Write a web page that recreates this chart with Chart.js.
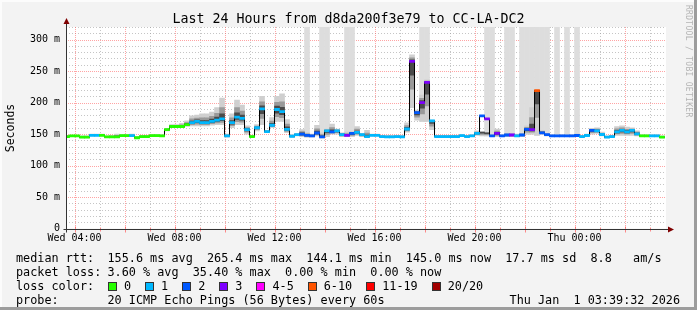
<!DOCTYPE html>
<html>
<head>
<meta charset="utf-8">
<script src="https://cdn.jsdelivr.net/npm/chart.js@4.4.1/dist/chart.umd.min.js"></script>
<style>
  html, body { margin: 0; padding: 0; }
  body { width: 697px; height: 310px; overflow: hidden; background: #f3f3f3; font-family: "DejaVu Sans Mono", monospace; color: #000; }
  #wrap { position: relative; width: 697px; height: 310px; }
  #chart { position: absolute; left: 0; top: 0; }
  .txt { position: absolute; white-space: pre; font-size: 11.8px; line-height: 14px; }
  #title { position: absolute; left: 0; width: 697px; top: 11px; text-align: center; font-size: 13.3px; line-height: 16px; white-space: pre; }
  #ylab { position: absolute; left: 3px; top: 128px; font-size: 11.5px; transform: rotate(-90deg); transform-origin: left top; white-space: pre; }
  #ylab span { display: inline-block; transform: translate(-50%, 0); }
  #brand { position: absolute; left: 684px; top: 5px; font-size: 8px; color: #b4b4b4; writing-mode: vertical-rl; white-space: pre; letter-spacing: 0.3px; }
  .box { display: inline-block; width: 7px; height: 7px; border: 1px solid #333; vertical-align: -1px; margin-right: 7px; }
  .lbl { margin-right: 14px; }
  .edge { position: absolute; }
</style>
</head>
<body>
<div id="wrap">
  <canvas id="chart" width="697" height="310"></canvas>
  <div id="title">Last 24 Hours from d8da200f3e79 to CC-LA-DC2</div>
  <div id="ylab"><span>Seconds</span></div>
  <div id="brand">RRDTOOL / TOBI OETIKER</div>
  <div class="txt" style="left:16px; top:251px">median rtt:</div>
  <div class="txt" id="rtt" style="left:107.5px; top:251px"></div>
  <div class="txt" style="left:16px; top:265px">packet loss:</div>
  <div class="txt" id="loss" style="left:107.5px; top:265px"></div>
  <div class="txt" style="left:16px; top:279px">loss color:</div>
  <div class="txt" id="lossLegend" style="left:108px; top:279px"></div>
  <div class="txt" style="left:16px; top:293px">probe:</div>
  <div class="txt" id="probe" style="left:107.5px; top:293px"></div>
  <div class="txt" id="stamp" style="right:17px; top:293px"></div>
  <div class="edge" style="left:0; top:0; width:697px; height:2px; background:#fcfcfc"></div>
  <div class="edge" style="left:0; top:0; width:2px; height:310px; background:#fcfcfc"></div>
  <div class="edge" style="left:0; top:307px; width:697px; height:3px; background:#9c9c9c"></div>
  <div class="edge" style="left:694px; top:0; width:3px; height:310px; background:#9c9c9c"></div>
</div>
<script>
/*=============== DATA ===============*/
// one step = 12 minutes, first step starts Wed 03:36 (hours counted from Wed 00:00)
const firstStep = 3.6;
const stepHours = 0.2;
const viewStart = 3 + 39 / 60 + 32 / 3600;   // Wed 03:39:32
const viewHours = 24;

const medianRtt = [
    146, 147, 147, 145, 145, 148, 148, 148, 145.5, 145.5,
    145.5, 147.5, 147.5, 147.5, 144.1, 146, 146, 147.5, 147.5, 147,
    157, 162, 162, 162, 165, 168, 170, 168, 168, 170,
    172, 174, 147, 168, 177, 175, 157, 146, 160, 190,
    154, 164, 189, 185.5, 157.5, 146.5, 149, 150, 148, 147,
    151.7, 145.6, 155, 153.6, 155, 149, 148, 151, 152.5, 149,
    146, 148, 148, 146, 145.6, 145.6, 146, 145.5, 158, 265.4,
    184, 200, 232, 171, 146, 146, 146, 146, 146, 147.5,
    146, 147, 151, 179, 174, 147, 151, 147, 148.5, 148.5,
    147, 148.5, 157.5, 157, 219, 152, 149, 147, 147, 147,
    147, 147, 147.7, 146, 147.7, 155.7, 155, 149.3, 145, 146,
    153.6, 155.7, 153.6, 155.7, 150.4, 147, 147, 147, 147, 145
];
// loss bucket of each step (index into lossLabels)
const lossBucket = [
    0, 0, 0, 0, 0, 1, 1, 0, 0, 0,
    0, 0, 0, 1, 0, 0, 0, 0, 0, 0,
    0, 0, 0, 0, 0, 1, 1, 1, 1, 1,
    1, 1, 1, 1, 1, 1, 1, 0, 1, 1,
    1, 1, 1, 1, 1, 1, 1, 2, 2, 2,
    2, 2, 1, 2, 1, 1, 3, 2, 1, 1,
    1, 1, 1, 1, 1, 1, 1, 1, 1, 3,
    2, 3, 3, 1, 1, 1, 1, 1, 1, 1,
    1, 1, 1, 2, 3, 2, 3, 2, 2, 3,
    1, 2, 2, 3, 5, 2, 2, 2, 2, 2,
    2, 2, 2, 1, 1, 2, 1, 1, 1, 1,
    1, 1, 1, 1, 1, 0, 0, 1, 1, 0
];
// smoke: fastest and slowest ping of each step
const smokeLow = [
    145, 146, 146, 144, 144, 147, 147, 147, 144.5, 144.5,
    144.5, 146.5, 146.5, 146.5, 143, 145, 145, 146.5, 146.5, 146,
    155, 160, 160, 160, 162, 163, 163, 163, 163, 164,
    165, 165, 145, 160, 165, 165, 150, 145, 155, 165,
    152, 160, 170, 170, 152, 145, 147, 146, 145, 145,
    147, 144, 146, 150, 150, 146, 146, 146, 148, 146,
    145, 147, 147, 145, 144.5, 144.5, 145, 144.5, 153, 192,
    172, 170, 170, 157, 145, 145, 145, 145, 145, 146,
    145, 146, 148, 147, 147, 146, 146, 146, 146, 146,
    146, 146, 150, 150, 148, 150, 147, 146, 146, 146,
    146, 146, 146, 145, 146, 150, 151, 147, 144, 145,
    148, 148, 148, 148, 147, 146, 146, 146, 146, 144
];
const smokeHigh = [
    148, 148, 148, 147, 147, 150, 150, 150, 147, 148,
    150, 149, 149, 150, 146, 148, 148, 149, 149, 149,
    159, 165, 165, 167, 171, 179, 180, 182, 182, 185,
    192, 207, 150, 182, 204, 196, 163, 148, 165, 210,
    156, 176, 210, 214, 173, 149, 151, 157, 152, 150,
    164, 152, 158, 166, 158, 152, 153, 154, 162, 151,
    156, 150, 150, 148, 148, 148, 148, 148, 168, 276,
    188, 212, 236, 172, 148, 148, 148, 148, 148, 149,
    148, 149, 155, 153, 152, 149, 158, 149, 151, 151,
    150, 151, 163, 192, 219, 156, 151, 149, 149, 149,
    149, 149, 150, 148, 150, 159, 160, 153, 147, 148,
    162, 163, 161, 160, 155, 149, 149, 149, 149, 147
];
// steps where the slowest pings run off the top of the graph
const offTopSteps = [48, 51, 52, 56, 57, 71, 72, 84, 85, 88, 89, 91, 92, 93, 94, 95, 96, 98, 100, 102];

const lossLabels = ['0', '1', '2', '3', '4-5', '6-10', '11-19', '20/20'];
const lossColors = ['#26ff00', '#00b8ff', '#0059ff', '#7e00ff', '#ff00ff', '#ff5500', '#ff0000', '#a10000'];

const xTickHours = [4, 8, 12, 16, 20, 24];
const xTickLabels = ['Wed 04:00', 'Wed 08:00', 'Wed 12:00', 'Wed 16:00', 'Wed 20:00', 'Thu 00:00'];
const yTicks = [0, 50, 100, 150, 200, 250, 300];
const yMax = 320;

const rttStats = '155.6 ms avg  265.4 ms max  144.1 ms min  145.0 ms now  17.7 ms sd  8.8   am/s';
const lossStats = '3.60 % avg  35.40 % max  0.00 % min  0.00 % now';
const probeText = '20 ICMP Echo Pings (56 Bytes) every 60s';
const stampText = 'Thu Jan  1 03:39:32 2026';

/*=============== TEXT ===============*/
document.getElementById('rtt').textContent = rttStats;
document.getElementById('loss').textContent = lossStats;
document.getElementById('probe').textContent = probeText;
document.getElementById('stamp').textContent = stampText;
document.getElementById('lossLegend').innerHTML = lossLabels.map((l, i) =>
    `<span class="box" style="background:${lossColors[i]}"></span><span class="lbl">${l}</span>`).join('');

/*=============== DATASETS ===============*/
const mid = k => firstStep + stepHours * (k + 0.5);
// median clamped into the smoke range, so shading stays inside it
const centre = k => Math.min(Math.max(medianRtt[k], smokeLow[k]), smokeHigh[k]);

const outerSmoke = medianRtt.map((m, k) => ({ x: mid(k), y: [smokeLow[k], smokeHigh[k]] }));
const midSmoke = medianRtt.map((m, k) => {
    const c = centre(k);
    return { x: mid(k), y: [c - (c - smokeLow[k]) * 0.6, c + (smokeHigh[k] - c) * 0.55] };
});
const innerSmoke = medianRtt.map((m, k) => {
    const c = centre(k);
    return { x: mid(k), y: [c - (c - smokeLow[k]) * 0.3, c + (smokeHigh[k] - c) * 0.25] };
});
const offTop = offTopSteps.map(k => ({ x: mid(k), y: [Math.min(smokeLow[k], medianRtt[k]), yMax] }));
const medianMarks = medianRtt.map((m, k) => ({ x: mid(k), y: [m - 1.7, m + 1.7] }));
const medianLine = medianRtt.map((m, k) => ({ x: firstStep + stepHours * k, y: m }));
medianLine.push({ x: firstStep + stepHours * medianRtt.length, y: medianRtt[medianRtt.length - 1] });

const barBase = { type: 'bar', grouped: false, barThickness: 5, borderWidth: 0, borderSkipped: false };

/*=============== PLUGINS ===============*/
const rrdGrid = {
    id: 'rrdGrid',
    beforeDatasetsDraw(chart) {
        const { ctx, chartArea: a, scales: { x, y } } = chart;
        ctx.save();
        ctx.fillStyle = '#ffffff';
        ctx.fillRect(a.left, a.top, a.right - a.left, a.bottom - a.top);
        ctx.lineWidth = 1;
        // minor lines
        ctx.strokeStyle = 'rgba(150,150,150,0.55)';
        ctx.setLineDash([1, 2]);
        for (let v = 10; v <= yMax; v += 10) {
            if (v % 50 === 0) continue;
            const py = Math.round(y.getPixelForValue(v)) + 0.5;
            ctx.beginPath(); ctx.moveTo(a.left, py); ctx.lineTo(a.right, py); ctx.stroke();
        }
        for (let h = Math.ceil(viewStart); h <= viewStart + viewHours; h++) {
            if (h % 2 === 0) continue;
            const px = Math.round(x.getPixelForValue(h)) + 0.5;
            ctx.beginPath(); ctx.moveTo(px, a.top); ctx.lineTo(px, a.bottom); ctx.stroke();
        }
        // major lines
        ctx.strokeStyle = 'rgba(255,90,90,0.55)';
        ctx.setLineDash([1, 1]);
        for (let v = 50; v <= yMax; v += 50) {
            const py = Math.round(y.getPixelForValue(v)) + 0.5;
            ctx.beginPath(); ctx.moveTo(a.left, py); ctx.lineTo(a.right, py); ctx.stroke();
        }
        for (let h = Math.ceil(viewStart); h <= viewStart + viewHours; h++) {
            if (h % 2 !== 0) continue;
            const px = Math.round(x.getPixelForValue(h)) + 0.5;
            ctx.beginPath(); ctx.moveTo(px, a.top); ctx.lineTo(px, a.bottom); ctx.stroke();
        }
        ctx.restore();
    },
    afterDatasetsDraw(chart) {
        const { ctx, chartArea: a, scales: { x } } = chart;
        const ax = Math.round(a.left) + 0.5, ay = Math.round(a.bottom) + 0.5;
        ctx.save();
        // ticks on the time axis
        ctx.strokeStyle = 'rgba(255,90,90,0.7)';
        for (let h = Math.ceil(viewStart); h <= viewStart + viewHours; h++) {
            const px = Math.round(x.getPixelForValue(h)) + 0.5;
            const len = h % 2 === 0 ? 3 : 2;
            ctx.beginPath(); ctx.moveTo(px, ay - len); ctx.lineTo(px, ay + len); ctx.stroke();
        }
        ctx.strokeStyle = '#333';
        ctx.lineWidth = 1;
        ctx.beginPath();
        ctx.moveTo(ax, ay + 3); ctx.lineTo(ax, a.top - 4);
        ctx.moveTo(ax - 3, ay); ctx.lineTo(a.right + 5, ay);
        ctx.stroke();
        ctx.fillStyle = '#7f0000';
        ctx.beginPath();
        ctx.moveTo(ax - 3, a.top - 3); ctx.lineTo(ax + 3, a.top - 3); ctx.lineTo(ax, a.top - 9); ctx.closePath();
        ctx.fill();
        ctx.beginPath();
        ctx.moveTo(a.right + 2, ay - 3); ctx.lineTo(a.right + 2, ay + 3); ctx.lineTo(a.right + 8, ay); ctx.closePath();
        ctx.fill();
        ctx.restore();
    }
};

/*=============== CHART ===============*/
new Chart(document.getElementById('chart'), {
    type: 'bar',
    data: {
        datasets: [
            { ...barBase, label: 'median', data: medianMarks, order: 0,
              backgroundColor: lossBucket.map(b => lossColors[b]) },
            { type: 'line', label: 'median line', data: medianLine, order: 1, stepped: true,
              borderColor: '#000', borderWidth: 1, pointRadius: 0, fill: false },
            { ...barBase, label: 'smoke inner', data: innerSmoke, order: 2, backgroundColor: '#4a4a4a' },
            { ...barBase, label: 'smoke mid', data: midSmoke, order: 3, backgroundColor: '#9a9a9a' },
            { ...barBase, label: 'smoke outer', data: outerSmoke, order: 4, backgroundColor: '#cfcfcf' },
            { ...barBase, label: 'off top', data: offTop, order: 5, backgroundColor: '#dddddd' }
        ]
    },
    options: {
        responsive: false,
        animation: false,
        devicePixelRatio: 1,
        layout: { padding: { left: 0, top: 27, right: 31, bottom: 0 } },
        plugins: { legend: { display: false }, tooltip: { enabled: false } },
        scales: {
            x: {
                type: 'linear',
                min: viewStart,
                max: viewStart + viewHours,
                offset: false,
                grid: { display: false, drawTicks: false },
                border: { display: false },
                afterFit: s => { s.height = 310 - 228.5; },
                afterBuildTicks: s => { s.ticks = xTickHours.map(v => ({ value: v })); },
                ticks: {
                    autoSkip: false, maxRotation: 0, padding: 4, color: '#000',
                    font: { family: 'DejaVu Sans Mono', size: 10 },
                    callback: v => xTickLabels[xTickHours.indexOf(v)]
                }
            },
            y: {
                min: 0,
                max: yMax,
                grid: { display: false, drawTicks: false },
                border: { display: false },
                afterFit: s => { s.width = 66; },
                afterBuildTicks: s => { s.ticks = yTicks.map(v => ({ value: v })); },
                ticks: {
                    padding: 6, color: '#000',
                    font: { family: 'DejaVu Sans Mono', size: 10 },
                    callback: v => v === 0 ? '0' : v + ' m'
                }
            }
        }
    },
    plugins: [rrdGrid]
});
</script>
</body>
</html>
